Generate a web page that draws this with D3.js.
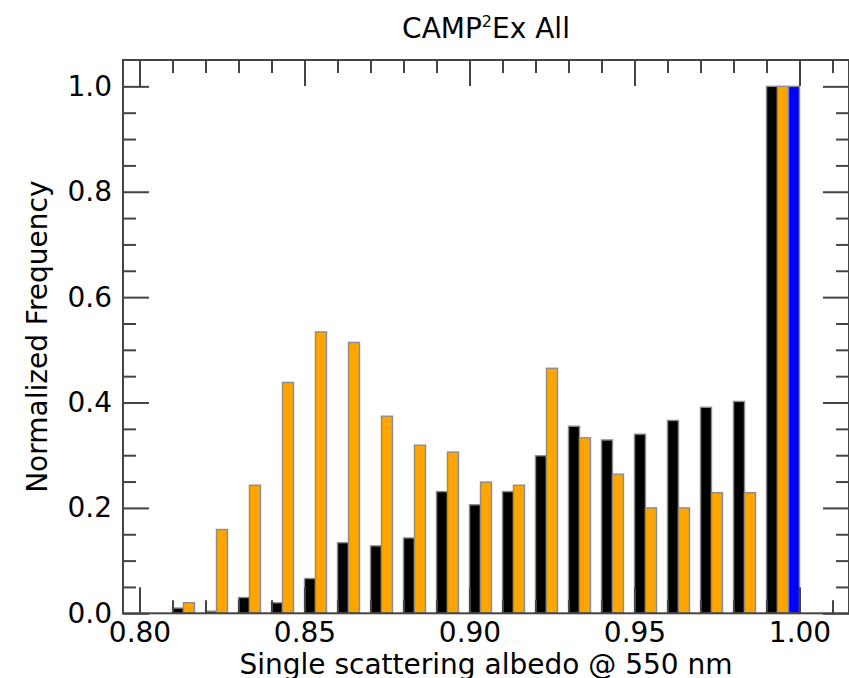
<!DOCTYPE html>
<html>
<head>
<meta charset="utf-8">
<script src="https://cdn.jsdelivr.net/npm/d3@7"></script>
<style>
  body { margin: 0; background: #fff; }
  svg text { font-family: "DejaVu Sans", sans-serif; fill: #000; }
</style>
</head>
<body>
<div id="chart"></div>
<script>
// bin left edges (bin width 0.01)
const bins = [0.81, 0.82, 0.83, 0.84, 0.85, 0.86, 0.87, 0.88, 0.89, 0.90,
  0.91, 0.92, 0.93, 0.94, 0.95, 0.96, 0.97, 0.98, 0.99];
const blackVals = [0.010, 0.004, 0.030, 0.020, 0.066, 0.134, 0.128, 0.143, 0.231, 0.206,
  0.231, 0.299, 0.355, 0.329, 0.340, 0.366, 0.391, 0.402, 1.0];
const orangeVals = [0.020, 0.159, 0.243, 0.438, 0.534, 0.514, 0.374, 0.319, 0.306, 0.249,
  0.243, 0.465, 0.333, 0.264, 0.200, 0.200, 0.229, 0.229, 1.0];
const blueVals = [0, 0, 0, 0, 0, 0, 0, 0, 0, 0,
  0, 0, 0, 0, 0, 0, 0, 0, 1.0];
const seriesNames = ["black", "orange", "blue"];
const seriesColors = { black: "#000000", orange: "#FFA500", blue: "#0000FF" };

const xMajor = [0.80, 0.85, 0.90, 0.95, 1.00];
const yMajor = [0.0, 0.2, 0.4, 0.6, 0.8, 1.0];

const W = 849, H = 678;
const plotL = 123, plotR = 849, plotT = 60, plotB = 613.3;
const FS = 28;

const svg = d3.select("#chart").append("svg")
  .attr("width", W).attr("height", H);

const x = d3.scaleLinear().domain([0.795, 1.015]).range([plotL, plotR]);
const y = d3.scaleLinear().domain([0, 1.05]).range([plotB, plotT]);

const binW = 0.01;
const inner = d3.scaleBand().domain(seriesNames).range([0, x(binW) - x(0)]).padding(0);

const rows = [];
bins.forEach((b, i) => {
  const vals = { black: blackVals[i], orange: orangeVals[i], blue: blueVals[i] };
  seriesNames.forEach(s => {
    if (vals[s] > 0) rows.push({ bin: b, key: s, value: vals[s] });
  });
});

svg.append("g").selectAll("rect")
  .data(rows)
  .enter().append("rect")
  .attr("x", d => x(d.bin) + inner(d.key))
  .attr("width", inner.bandwidth())
  .attr("y", d => y(d.value))
  .attr("height", d => y(0) - y(d.value))
  .attr("fill", d => seriesColors[d.key])
  .attr("stroke", "#8c8c8c")
  .attr("stroke-width", 1.4);

// minor ticks
const xMinor = d3.range(80, 102).map(v => v / 100).filter(v => !xMajor.some(m => Math.abs(m - v) < 1e-9));
const yMinor = d3.range(0, 21).map(v => v / 20).filter(v => !yMajor.some(m => Math.abs(m - v) < 1e-9));

function styleAxis(g) {
  g.select(".domain").remove();
  g.selectAll(".tick line").attr("stroke", "#444").attr("stroke-width", 2);
  g.selectAll(".tick text").attr("font-size", FS).attr("font-family", "DejaVu Sans").attr("fill", "#000");
}

// bottom
svg.append("g").attr("transform", `translate(0,${plotB})`)
  .call(d3.axisBottom(x).tickValues(xMajor).tickSize(-26).tickPadding(9).tickFormat(d3.format(".2f")))
  .call(styleAxis);
svg.append("g").attr("transform", `translate(0,${plotB})`)
  .call(d3.axisBottom(x).tickValues(xMinor).tickSize(-13).tickFormat(""))
  .call(styleAxis);
// top
svg.append("g").attr("transform", `translate(0,${plotT})`)
  .call(d3.axisTop(x).tickValues(xMajor).tickSize(-26).tickFormat(""))
  .call(styleAxis);
svg.append("g").attr("transform", `translate(0,${plotT})`)
  .call(d3.axisTop(x).tickValues(xMinor).tickSize(-13).tickFormat(""))
  .call(styleAxis);
// left
svg.append("g").attr("transform", `translate(${plotL},0)`)
  .call(d3.axisLeft(y).tickValues(yMajor).tickSize(-26).tickPadding(11).tickFormat(d3.format(".1f")))
  .call(styleAxis);
svg.append("g").attr("transform", `translate(${plotL},0)`)
  .call(d3.axisLeft(y).tickValues(yMinor).tickSize(-13).tickFormat(""))
  .call(styleAxis);
// right
svg.append("g").attr("transform", `translate(${plotR},0)`)
  .call(d3.axisRight(y).tickValues(yMajor).tickSize(-26).tickFormat(""))
  .call(styleAxis);
svg.append("g").attr("transform", `translate(${plotR},0)`)
  .call(d3.axisRight(y).tickValues(yMinor).tickSize(-13).tickFormat(""))
  .call(styleAxis);

// frame
svg.append("rect")
  .attr("x", plotL).attr("y", plotT)
  .attr("width", plotR - plotL).attr("height", plotB - plotT)
  .attr("fill", "none").attr("stroke", "#444").attr("stroke-width", 2);

// title
const title = svg.append("text")
  .attr("x", (plotL + plotR) / 2).attr("y", 37.7)
  .attr("text-anchor", "middle").attr("font-size", FS);
title.append("tspan").text("CAMP");
title.append("tspan").attr("font-size", 16).attr("dy", -11).text("2");
title.append("tspan").attr("dy", 11).text("Ex All");

// axis labels
svg.append("text")
  .attr("x", (plotL + plotR) / 2).attr("y", 674)
  .attr("text-anchor", "middle").attr("font-size", FS)
  .text("Single scattering albedo @ 550 nm");

svg.append("text")
  .attr("transform", `translate(47,${(plotT + plotB) / 2}) rotate(-90)`)
  .attr("text-anchor", "middle").attr("font-size", FS)
  .text("Normalized Frequency");
</script>
</body>
</html>
